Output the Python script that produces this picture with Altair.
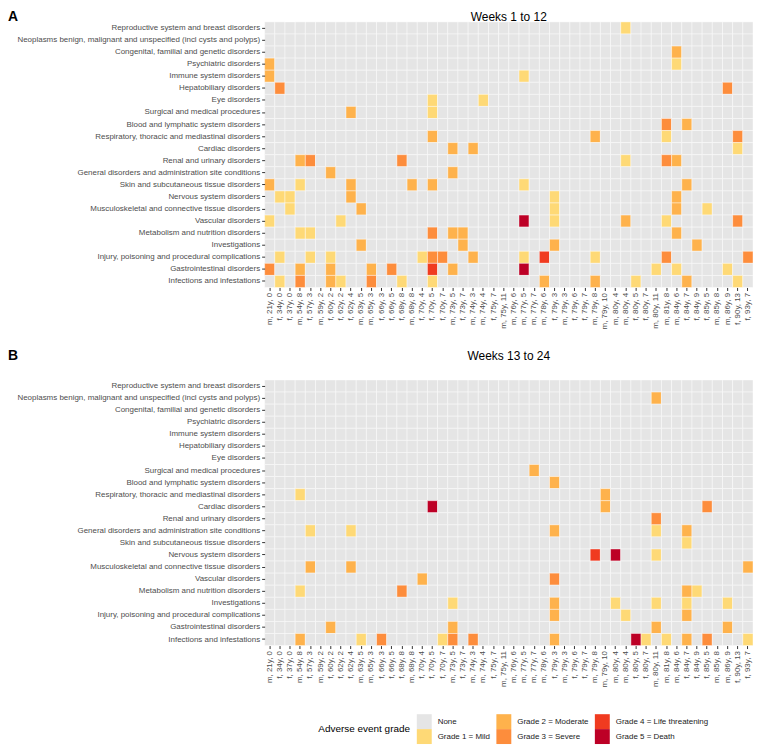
import json
import altair as alt
import pandas as pd

PATIENTS = [
    "m, 21y, 0", "f, 34y, 0", "f, 37y, 0", "m, 54y, 8", "f, 57y, 3", "m, 59y, 2",
    "f, 60y, 2", "f, 62y, 2", "f, 62y, 4", "m, 63y, 5", "m, 65y, 3", "f, 66y, 3",
    "f, 66y, 5", "f, 68y, 8", "m, 68y, 8", "f, 70y, 4", "f, 70y, 5", "f, 70y, 7",
    "m, 73y, 5", "f, 73y, 7", "m, 74y, 3", "m, 74y, 4", "f, 75y, 7", "m, 75y, 11",
    "m, 76y, 6", "m, 77y, 5", "m, 77y, 7", "m, 78y, 6", "f, 79y, 3", "m, 79y, 3",
    "f, 79y, 6", "f, 79y, 7", "m, 79y, 8", "m, 79y, 10", "m, 80y, 4", "m, 80y, 4",
    "f, 80y, 5", "f, 80y, 7", "m, 80y, 11", "m, 81y, 8", "m, 84y, 6", "f, 84y, 7",
    "f, 84y, 9", "f, 85y, 5", "m, 85y, 8", "m, 86y, 9", "f, 90y, 13", "f, 93y, 7",
]

CATEGORIES = [
    "Reproductive system and breast disorders",
    "Neoplasms benign, malignant and unspecified (incl cysts and polyps)",
    "Congenital, familial and genetic disorders",
    "Psychiatric disorders",
    "Immune system disorders",
    "Hepatobiliary disorders",
    "Eye disorders",
    "Surgical and medical procedures",
    "Blood and lymphatic system disorders",
    "Respiratory, thoracic and mediastinal disorders",
    "Cardiac disorders",
    "Renal and urinary disorders",
    "General disorders and administration site conditions",
    "Skin and subcutaneous tissue disorders",
    "Nervous system disorders",
    "Musculoskeletal and connective tissue disorders",
    "Vascular disorders",
    "Metabolism and nutrition disorders",
    "Investigations",
    "Injury, poisoning and procedural complications",
    "Gastrointestinal disorders",
    "Infections and infestations",
]

GRADES = ["None", "Grade 1 = Mild", "Grade 2 = Moderate", "Grade 3 = Severe",
          "Grade 4 = Life threatening", "Grade 5 = Death"]
COLORS = ["#E5E5E5", "#FED976", "#FEB24C", "#FD8D3C", "#F03B20", "#BD0026"]

# (patient number 1..48, grade) per category
WEEKS_1_12 = {
    "Reproductive system and breast disorders": [(36, 1)],
    "Congenital, familial and genetic disorders": [(41, 2)],
    "Psychiatric disorders": [(1, 2), (41, 1)],
    "Immune system disorders": [(1, 2), (26, 1)],
    "Hepatobiliary disorders": [(2, 3), (46, 3)],
    "Eye disorders": [(17, 1), (22, 1)],
    "Surgical and medical procedures": [(9, 2), (17, 1)],
    "Blood and lymphatic system disorders": [(40, 3), (42, 2)],
    "Respiratory, thoracic and mediastinal disorders": [(17, 2), (33, 2), (40, 1), (47, 3)],
    "Cardiac disorders": [(19, 2), (21, 2), (47, 1)],
    "Renal and urinary disorders": [(4, 2), (5, 3), (14, 3), (36, 1), (40, 3), (41, 2)],
    "General disorders and administration site conditions": [(7, 2), (19, 2)],
    "Skin and subcutaneous tissue disorders": [(1, 2), (4, 1), (9, 2), (15, 2), (17, 2), (26, 1), (42, 2)],
    "Nervous system disorders": [(2, 1), (3, 1), (9, 2), (29, 1), (41, 2)],
    "Musculoskeletal and connective tissue disorders": [(3, 1), (10, 2), (29, 1), (41, 2), (44, 1)],
    "Vascular disorders": [(1, 1), (8, 1), (26, 5), (29, 1), (36, 2), (40, 1), (47, 3)],
    "Metabolism and nutrition disorders": [(4, 1), (5, 1), (17, 3), (19, 2), (20, 2), (41, 2)],
    "Investigations": [(10, 2), (20, 2), (29, 2), (43, 2)],
    "Injury, poisoning and procedural complications": [(2, 1), (5, 1), (7, 1), (16, 1), (17, 3), (18, 3),
                                                       (21, 2), (26, 1), (28, 4), (33, 1), (40, 3), (48, 3)],
    "Gastrointestinal disorders": [(1, 3), (4, 2), (7, 2), (11, 2), (13, 3), (17, 4), (19, 2),
                                   (26, 5), (39, 1), (41, 1), (46, 1)],
    "Infections and infestations": [(2, 1), (4, 3), (7, 2), (8, 1), (11, 3), (14, 1), (17, 1),
                                    (28, 2), (33, 2), (37, 1), (42, 2), (47, 1)],
}

WEEKS_13_24 = {
    "Neoplasms benign, malignant and unspecified (incl cysts and polyps)": [(39, 2)],
    "Surgical and medical procedures": [(27, 2)],
    "Blood and lymphatic system disorders": [(29, 2)],
    "Respiratory, thoracic and mediastinal disorders": [(4, 1), (34, 2)],
    "Cardiac disorders": [(17, 5), (34, 2), (44, 3)],
    "Renal and urinary disorders": [(39, 3)],
    "General disorders and administration site conditions": [(5, 1), (9, 1), (29, 2), (39, 1), (42, 2)],
    "Skin and subcutaneous tissue disorders": [(42, 1)],
    "Nervous system disorders": [(33, 4), (35, 5), (39, 1)],
    "Musculoskeletal and connective tissue disorders": [(5, 2), (9, 2), (48, 2)],
    "Vascular disorders": [(16, 2), (29, 3)],
    "Metabolism and nutrition disorders": [(4, 1), (14, 3), (42, 2), (43, 1)],
    "Investigations": [(19, 1), (29, 2), (35, 1), (39, 1), (42, 1), (46, 1)],
    "Injury, poisoning and procedural complications": [(29, 2), (36, 1), (42, 2)],
    "Gastrointestinal disorders": [(7, 2), (19, 2), (39, 2), (46, 2)],
    "Infections and infestations": [(4, 2), (10, 1), (12, 3), (18, 1), (19, 3), (21, 3), (29, 2),
                                    (37, 5), (38, 1), (40, 1), (42, 2), (44, 3), (48, 1)],
}

FONT = "Liberation Sans"
PLOT_W, PLOT_H = 491, 267


def build_frame(events):
    rows = []
    for cat in CATEGORIES:
        ev = dict(events.get(cat, []))
        for i in range(len(PATIENTS)):
            rows.append({"cat": cat, "pid": i, "grade": GRADES[ev.get(i + 1, 0)]})
    return pd.DataFrame(rows)


color_scale = alt.Scale(domain=GRADES, range=COLORS)
label_expr = json.dumps(PATIENTS) + "[datum.value]"


def panel(events, title, tag, with_legend, head_y):
    df = build_frame(events)
    if with_legend:
        legend = alt.Legend(
            title="Adverse event grade", orient="none", legendX=54, legendY=336,
            columns=3, symbolType="square", symbolSize=225, symbolStrokeWidth=0,
            rowPadding=0, columnPadding=6, labelOffset=6, titleOrient="left",
            titlePadding=6, titleFontSize=10, titleFontWeight="normal", titleColor="black",
            titleBaseline="middle", labelFontSize=8, labelColor="#1A1A1A",
            titleLimit=300, labelLimit=300)
    else:
        legend = None
    rect = alt.Chart(df).mark_rect(stroke="white", strokeWidth=0.7, strokeOpacity=0.6).encode(
        x=alt.X("pid:O", axis=alt.Axis(title=None, labelExpr=label_expr, labelAngle=270,
                                       labelAlign="right", labelBaseline="middle",
                                       labelPadding=2, tickSize=3)),
        y=alt.Y("cat:N", sort=CATEGORIES, axis=alt.Axis(title=None, labelPadding=2, tickSize=3,
                                                         labelLimit=400)),
        color=alt.Color("grade:N", scale=color_scale, legend=legend),
    )
    heads = pd.DataFrame({"t": [tag, title]})
    tag_text = alt.Chart(heads).transform_filter(alt.datum.t == tag).mark_text(
        align="left", baseline="middle", fontSize=14, fontWeight="bold", font=FONT, color="black"
    ).encode(x=alt.value(-258), y=alt.value(head_y), text="t:N")
    title_text = alt.Chart(heads).transform_filter(alt.datum.t == title).mark_text(
        align="center", baseline="middle", fontSize=12, font=FONT, color="black"
    ).encode(x=alt.value(PLOT_W / 2), y=alt.value(head_y), text="t:N")
    return alt.layer(rect, tag_text, title_text).properties(width=PLOT_W, height=PLOT_H)


chart = alt.vconcat(
    panel(WEEKS_1_12, "Weeks 1 to 12", "A", False, -5),
    panel(WEEKS_13_24, "Weeks 13 to 24", "B", True, -24),
    spacing=20,
).resolve_scale(color="independent").properties(padding=0).configure_view(
    strokeWidth=0
).configure_axis(
    labelFont=FONT, labelFontSize=8, labelColor="#4D4D4D", tickColor="#333333",
    domain=False, grid=False,
).configure_legend(labelFont=FONT, titleFont=FONT)

chart.save("out.html", embed_options={"renderer": "svg", "actions": False})
